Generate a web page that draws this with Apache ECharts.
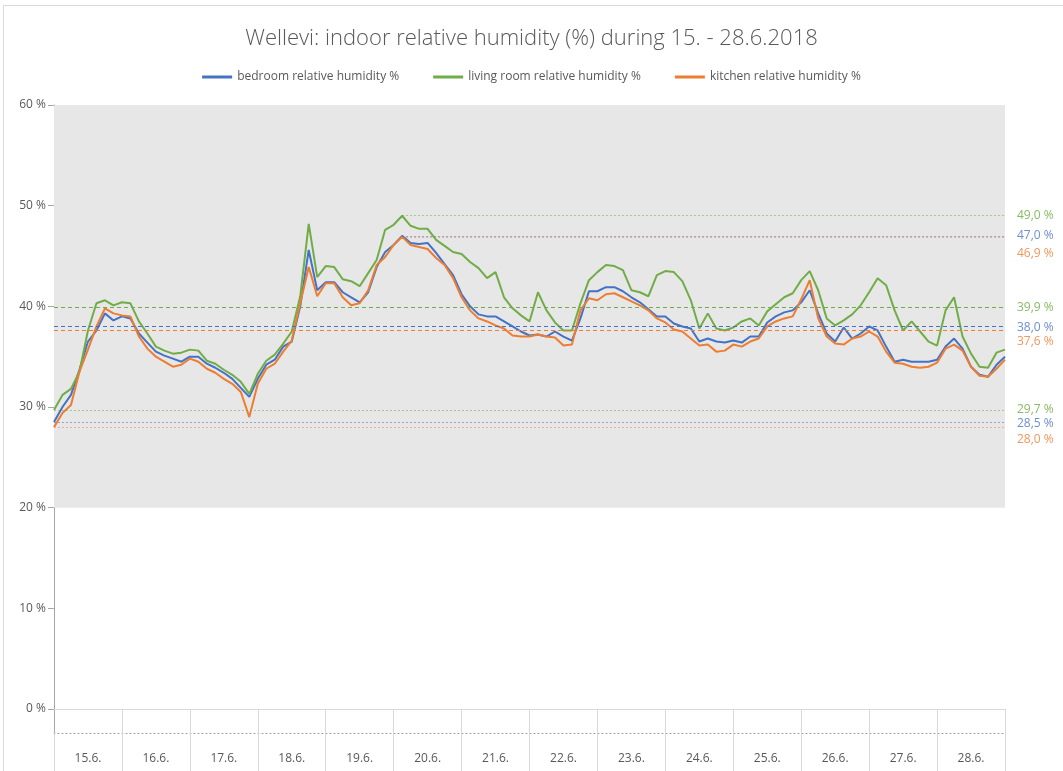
<!DOCTYPE html>
<html>
<head>
<meta charset="utf-8">
<title>Wellevi humidity</title>
<script src="https://cdn.jsdelivr.net/npm/echarts@6/dist/echarts.min.js"></script>
<style>
  html, body { margin: 0; padding: 0; background: #fff; }
  #frame { position: absolute; left: 3px; top: 5px; width: 1070px; height: 780px; border-left: 1px solid #d9d9d9; border-top: 1px solid #d9d9d9; }
  #chart { position: absolute; left: 0; top: 0; width: 1063px; height: 771px; }
</style>
</head>
<body>
<div id="frame"></div>
<div id="chart"></div>
<script>
// päivät x-akselilla
const days = ['15.6.', '16.6.', '17.6.', '18.6.', '19.6.', '20.6.', '21.6.',
  '22.6.', '23.6.', '24.6.', '25.6.', '26.6.', '27.6.', '28.6.']
// mittausväli tunteina (luettu kuvasta 3 h välein)
const hourStep = 3
const seriesNames = ['bedroom relative humidity %', 'living room relative humidity %', 'kitchen relative humidity %']

// bedroom, 8 arvoa / päivä + loppupiste
const bedroom = [
  28.5, 30.0, 31.2, 33.7, 36.5, 37.6, 39.3, 38.6,
  39.0, 38.8, 37.3, 36.4, 35.5, 35.1, 34.8, 34.5,
  35.0, 35.0, 34.3, 33.9, 33.4, 32.8, 31.9, 31.0,
  32.8, 34.2, 34.7, 36.0, 36.5, 40.0, 45.6, 41.6,
  42.4, 42.4, 41.4, 40.9, 40.4, 41.4, 43.9, 45.4,
  46.1, 47.0, 46.3, 46.2, 46.3, 45.3, 44.2, 43.1,
  41.2, 40.0, 39.2, 39.0, 39.0, 38.5, 38.0, 37.5,
  37.1, 37.2, 37.0, 37.5, 37.0, 36.6, 38.8, 41.5,
  41.5, 41.9, 41.9, 41.5, 40.9, 40.4, 39.7, 39.0,
  39.0, 38.3, 38.0, 37.8, 36.5, 36.8, 36.5, 36.4,
  36.6, 36.4, 37.0, 37.0, 38.4, 39.0, 39.4, 39.6,
  40.4, 41.6, 39.3, 37.3, 36.5, 37.9, 36.8, 37.3,
  38.0, 37.6, 36.0, 34.5, 34.7, 34.5, 34.5, 34.5,
  34.7, 36.0, 36.8, 35.8, 34.0, 33.2, 33.0, 34.2,
  35.0
]
// living room
const livingRoom = [
  29.7, 31.2, 31.8, 33.5, 37.6, 40.3, 40.6, 40.1,
  40.4, 40.3, 38.5, 37.3, 36.0, 35.6, 35.3, 35.4,
  35.7, 35.6, 34.6, 34.3, 33.7, 33.2, 32.5, 31.3,
  33.3, 34.6, 35.2, 36.3, 37.5, 41.0, 48.2, 42.9,
  44.0, 43.9, 42.7, 42.5, 42.0, 43.3, 44.6, 47.6,
  48.1, 49.0, 48.0, 47.7, 47.7, 46.6, 46.0, 45.4,
  45.2, 44.4, 43.8, 42.8, 43.4, 40.9, 39.8, 39.1,
  38.5, 41.4, 39.6, 38.4, 37.6, 37.6, 40.3, 42.6,
  43.4, 44.1, 44.0, 43.6, 41.6, 41.4, 41.0, 43.1,
  43.5, 43.4, 42.5, 40.6, 37.8, 39.3, 37.8, 37.6,
  37.9, 38.5, 38.8, 38.1, 39.5, 40.2, 40.9, 41.3,
  42.6, 43.5, 41.6, 38.8, 38.1, 38.6, 39.2, 40.1,
  41.4, 42.8, 42.1, 39.6, 37.6, 38.5, 37.5, 36.5,
  36.1, 39.6, 40.9, 37.0, 35.3, 34.0, 33.9, 35.4,
  35.7
]
// kitchen
const kitchen = [
  28.0, 29.4, 30.2, 33.5, 35.7, 38.0, 39.8, 39.3,
  39.1, 39.0, 37.0, 35.8, 35.0, 34.5, 34.0, 34.2,
  34.8, 34.5, 33.8, 33.4, 32.8, 32.3, 31.5, 29.0,
  32.3, 33.8, 34.3, 35.5, 36.6, 40.3, 43.9, 41.0,
  42.3, 42.3, 40.9, 40.1, 40.3, 41.6, 44.1, 44.9,
  46.1, 46.9, 46.1, 45.9, 45.7, 44.8, 44.1, 42.8,
  40.9, 39.6, 38.8, 38.5, 38.1, 37.8, 37.1, 37.0,
  37.0, 37.2, 37.0, 36.9, 36.1, 36.2, 39.6, 40.8,
  40.6, 41.2, 41.3, 40.9, 40.5, 40.1, 39.6, 38.8,
  38.4, 37.7, 37.5, 36.8, 36.1, 36.2, 35.5, 35.6,
  36.2, 36.0, 36.5, 36.8, 38.0, 38.5, 38.8, 39.0,
  40.7, 42.6, 38.8, 37.0, 36.3, 36.2, 36.8, 37.0,
  37.5, 37.0, 35.5, 34.4, 34.3, 34.0, 33.9, 34.0,
  34.4, 35.8, 36.2, 35.6, 34.0, 33.1, 33.0, 33.8,
  34.7
]

// tunnusluvut (bedroom, living room, kitchen)
const maxValues = [47.0, 49.0, 46.9]
const maxHours = [123, 123, 123]
const avgValues = [38.0, 39.9, 37.6]
const minValues = [28.5, 29.7, 28.0]
// y-akselin asteikko
const yMin = 0
const yMax = 60
const yStep = 10
const bandLow = 20

const colors = ['#4472C4', '#70AD47', '#ED7D31']
const fadedColors = ['rgba(68,114,196,0.55)', 'rgba(112,173,71,0.55)', 'rgba(237,125,49,0.5)']
const labelColors = ['#6f8fcf', '#86bb66', '#f0975c']
// tekstien siirto alaspäin ettei ne mene päällekkäin
const labelShift = {max: [0, 0, 17], avg: [1, 0, 11], min: [1, 0, 12]}

const lastHour = (bedroom.length - 1) * hourStep
const fmt = v => v.toFixed(1).replace('.', ',') + ' %'

function toPairs(arr){
  return arr.map((v, i) => [i * hourStep, v])
}

//label siirretään alas tyhjällä rivillä (rich teksti)
function refLabel(i, v, shift){
  const rich = {
    t: {color: labelColors[i], fontSize: 12, lineHeight: 14, fontFamily: 'Open Sans'}
  }
  let text = '{t|' + fmt(v) + '}'
  if(shift > 0){
    rich.p = {height: shift * 2, lineHeight: shift * 2, fontSize: 1}
    text = '{p|}\n' + text
  }
  return {
    show: true,
    position: 'end',
    distance: 12,
    formatter: text,
    rich: rich
  }
}

function buildSeries(i, data){
  return {
    name: seriesNames[i],
    type: 'line',
    data: toPairs(data),
    showSymbol: false,
    z: 3,
    lineStyle: {width: 2, color: colors[i]},
    itemStyle: {color: colors[i]},
    markLine: {
      silent: true,
      symbol: ['none', 'none'],
      data: [
        //max viiva alkaa maksimikohdasta
        [
          {coord: [maxHours[i], maxValues[i]], lineStyle: {color: fadedColors[i], width: 1, type: [2, 2]}, label: refLabel(i, maxValues[i], labelShift.max[i])},
          {coord: [lastHour, maxValues[i]]}
        ],
        {yAxis: avgValues[i], lineStyle: {color: colors[i], width: 1, type: [4, 3]}, label: refLabel(i, avgValues[i], labelShift.avg[i])},
        {yAxis: minValues[i], lineStyle: {color: fadedColors[i], width: 1, type: [2, 2]}, label: refLabel(i, minValues[i], labelShift.min[i])}
      ]
    }
  }
}

const chart = echarts.init(document.getElementById('chart'))
const option = {
  animation: false,
  textStyle: {fontFamily: 'Open Sans'},
  title: {
    text: 'Wellevi: indoor relative humidity (%) during 15. - 28.6.2018',
    left: 'center',
    top: 23,
    textStyle: {fontSize: 22, fontWeight: 300, color: '#595959', fontFamily: 'Open Sans'}
  },
  legend: {
    top: 66,
    left: 'center',
    icon: 'rect',
    itemWidth: 30,
    itemHeight: 3,
    itemGap: 34,
    textStyle: {fontSize: 12, color: '#595959'},
    data: seriesNames
  },
  grid: [
    {left: 54, right: 58, top: 105, bottom: 62},
    {left: 54, right: 58, top: 709, height: 24}
  ],
  xAxis: [
    {
      type: 'value', gridIndex: 0, min: 0, max: lastHour,
      axisLine: {show: true, onZero: false, lineStyle: {color: '#d9d9d9'}},
      axisTick: {show: false}, axisLabel: {show: false}, splitLine: {show: false}
    },
    {
      type: 'category', gridIndex: 1, data: days, boundaryGap: true, position: 'bottom',
      axisLine: {show: true, lineStyle: {color: '#9a9a9a', type: [1, 3]}},
      axisTick: {show: true, interval: 0, length: 38, lineStyle: {color: '#d9d9d9'}},
      splitLine: {show: true, interval: 0, lineStyle: {color: '#d9d9d9'}},
      axisLabel: {interval: 0, margin: 20, fontSize: 12, color: '#595959'}
    }
  ],
  yAxis: [
    {
      type: 'value', gridIndex: 0, min: yMin, max: yMax, interval: yStep,
      axisLine: {show: true, lineStyle: {color: '#a6a6a6'}},
      axisTick: {show: true, length: 6, lineStyle: {color: '#a6a6a6'}},
      axisLabel: {formatter: '{value} %', margin: 8, fontSize: 12, color: '#595959'},
      splitLine: {show: false}
    },
    {
      type: 'value', gridIndex: 1, min: 0, max: 1,
      axisLine: {show: true, lineStyle: {color: '#a6a6a6'}},
      axisTick: {show: false}, axisLabel: {show: false}, splitLine: {show: false}
    }
  ],
  series: [
    // harmaa tausta 20-60 %
    {
      type: 'line', data: [], z: 1, silent: true,
      markArea: {
        silent: true,
        itemStyle: {color: '#e7e7e7'},
        data: [[{yAxis: bandLow}, {yAxis: yMax}]]
      }
    },
    buildSeries(0, bedroom),
    buildSeries(1, livingRoom),
    buildSeries(2, kitchen)
  ]
}
chart.setOption(option)
</script>
</body>
</html>
